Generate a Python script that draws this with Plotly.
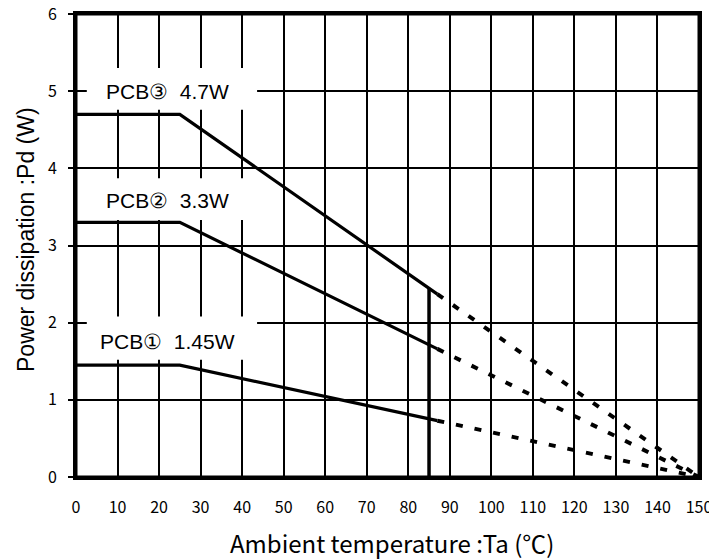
import plotly.graph_objects as go

# derating curves: Ta (C) -> Pd (W)
ta = [0, 25, 87, 150]
pd_pcb1 = [1.45, 1.45, 0.73, 0]
pd_pcb2 = [3.3, 3.3, 1.66, 0]
pd_pcb3 = [4.7, 4.7, 2.37, 0]
ta_limit = 85
pd_limit = 2.44

labels = ["PCB\u2460  1.45W", "PCB\u2461  3.3W", "PCB\u2462  4.7W"]
label_y = [1.75, 3.58, 5.0]

x_ticks = list(range(0, 151, 10))
y_ticks = list(range(0, 7))

fig = go.Figure()

for pd_vals in [pd_pcb1, pd_pcb2, pd_pcb3]:
    fig.add_trace(go.Scatter(x=ta[:3], y=pd_vals[:3], mode='lines',
                             line=dict(color='black', width=3.2)))
    fig.add_trace(go.Scatter(x=ta[2:], y=pd_vals[2:], mode='lines',
                             line=dict(color='black', width=4, dash='7px,12px')))

fig.add_trace(go.Scatter(x=[ta_limit, ta_limit], y=[0, pd_limit], mode='lines',
                         line=dict(color='black', width=3.5)))

# white boxes behind the labels (cover grid, not data)
box_y = [(1.52, 2.08), (3.33, 3.87), (4.76, 5.3)]
for (y0, y1), txt, ty in zip(box_y, labels, label_y):
    fig.add_shape(type='rect', x0=2.6, x1=43.6, y0=y0, y1=y1, layer='between',
                  fillcolor='white', line=dict(width=0))
    fig.add_annotation(x=22.0, y=ty, text=txt, showarrow=False,
                       font=dict(family='Liberation Sans', size=21, color='black'))

# plot frame
fig.add_shape(type='rect', xref='x', yref='y', x0=0, x1=150, y0=0, y1=6,
              layer='above', line=dict(color='black', width=3))

# page body has an 8px margin, so margins are shifted by 8px
plot_w, plot_h = 623, 463

fig.add_annotation(xref='paper', yref='paper', x=(392 - 76) / plot_w, y=-65 / plot_h,
                   text='Ambient temperature :Ta (\u2103)', showarrow=False,
                   yanchor='middle',
                   font=dict(family='Noto Sans CJK JP', size=24, color='black'))
fig.add_annotation(xref='paper', yref='paper', x=-(76 - 26) / plot_w, y=(477 - 240) / plot_h,
                   text='Power dissipation :Pd (W)', showarrow=False, textangle=-90,
                   xanchor='center', yanchor='middle',
                   font=dict(family='Liberation Sans', size=23, color='black'))

fig.update_layout(
    width=717, height=559,
    margin=dict(l=68, r=26, t=6, b=90),
    plot_bgcolor='white', paper_bgcolor='white',
    showlegend=False,
    xaxis=dict(range=[0, 150], tickvals=x_ticks, showgrid=True, automargin=False,
               gridcolor='black', gridwidth=1.5, showline=True, linecolor='black',
               linewidth=3, mirror=True, zeroline=False,
               ticks='', ticklen=0, ticklabelstandoff=14, ticklabeloverflow='allow',
               tickfont=dict(family='Noto Sans CJK JP', size=16, color='black')),
    yaxis=dict(range=[0, 6], tickvals=y_ticks, showgrid=True, automargin=False,
               gridcolor='black', gridwidth=1.5, showline=True, linecolor='black',
               linewidth=3, mirror=True, zeroline=False,
               ticks='outside', ticklen=5, tickcolor='black', tickwidth=1.5,
               ticklabelstandoff=8, ticklabeloverflow='allow',
               tickfont=dict(family='Noto Sans CJK JP', size=16, color='black')),
)

fig.write_html("out.html")
